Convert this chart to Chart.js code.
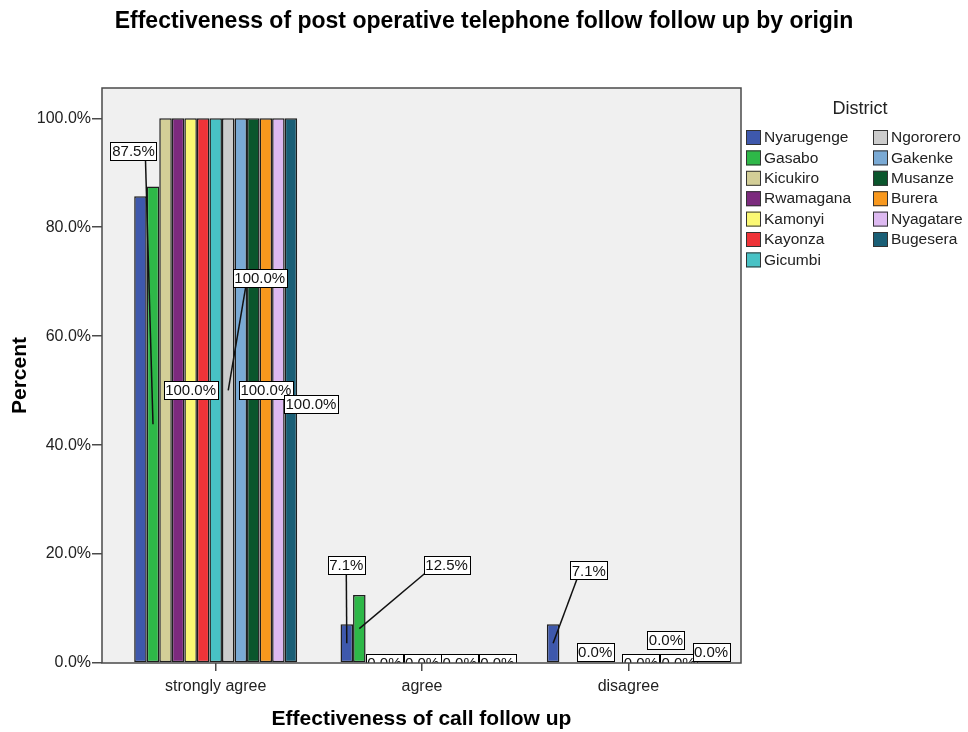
<!DOCTYPE html>
<html>
<head>
  <meta name="viewport" content="width=device-width, initial-scale=1.0">
  <title>Effectiveness of call follow up by district</title>
  <script src="https://cdn.jsdelivr.net/npm/chart.js"></script>
  <style>
    body {
      margin: 0;
      padding: 0;
      background-color: #ffffff;
    }
    #chart-container {
      width: 968px;
      height: 732px;
    }
  </style>
</head>
<body>
  <div id="chart-container">
    <canvas id="myChart"></canvas>
  </div>

  <script>
    // Response categories on the x axis
    const categories = ['strongly agree', 'agree', 'disagree'];

    const districts = [
      'Nyarugenge', 'Gasabo', 'Kicukiro', 'Rwamagana', 'Kamonyi', 'Kayonza', 'Gicumbi',
      'Ngororero', 'Gakenke', 'Musanze', 'Burera', 'Nyagatare', 'Bugesera'
    ];

    const districtColors = [
      '#3e58ac', '#2eb848', '#d3ce97', '#7c2a7e', '#fbf873', '#ef3338', '#48c2c5',
      '#cccccc', '#7aaad5', '#0a562c', '#f8981d', '#ddb9f1', '#1a5f76'
    ];

    // Percent of respondents per district, one array per category
    const stronglyAgree = [85.7, 87.5, 100, 100, 100, 100, 100, 100, 100, 100, 100, 100, 100];
    const agree         = [7.1, 12.5, 0, 0, 0, 0, 0, 0, 0, 0, 0, 0, 0];
    const disagree      = [7.1, 0, 0, 0, 0, 0, 0, 0, 0, 0, 0, 0, 0];

    const yTicks = [0, 20, 40, 60, 80, 100];

    // Which value labels are shown and where the box sits relative to the bar middle
    // (dx, dy), with optional leader start offset from the box centre
    const valueLabels = [
      { cat: 0, d: 1,  dx: -19.5, dy: -273,  lead: [12, 9] },
      { cat: 0, d: 4,  dx: 0,     dy: 0 },
      { cat: 0, d: 7,  dx: 31.5,  dy: -112.4, lead: [-14, 9] },
      { cat: 0, d: 10, dx: 0,     dy: 0 },
      { cat: 0, d: 12, dx: 20,    dy: 13.5 },
      { cat: 1, d: 0,  dx: -0.5,  dy: -78.5, lead: [0, 9] },
      { cat: 1, d: 1,  dx: 87.3,  dy: -63.8, lead: [-21, 8] },
      { cat: 1, d: 3,  dx: 0,     dy: 0 },
      { cat: 1, d: 6,  dx: 0,     dy: 0 },
      { cat: 1, d: 9,  dx: 0,     dy: 0 },
      { cat: 1, d: 12, dx: 0,     dy: 0 },
      { cat: 2, d: 0,  dx: 35.7,  dy: -72.9, lead: [-12, 9] },
      { cat: 2, d: 7,  dx: 0,     dy: 0 },
      { cat: 2, d: 10, dx: 0,     dy: 0 },
      { cat: 2, d: 3,  dx: 4.4,   dy: -11.3 },
      { cat: 2, d: 12, dx: 7.5,   dy: -11.3 },
      { cat: 2, d: 9,  dx: 0,     dy: -23.2 }
    ];

    const FONT = "'Liberation Sans', Arial, sans-serif";
    const seriesByCategory = [stronglyAgree, agree, disagree];

    const datasets = districts.map((name, d) => ({
      label: name,
      data: categories.map((c, i) => ({ x: i, y: seriesByCategory[i][d] })),
      backgroundColor: districtColors[d],
      borderColor: '#1e1e1e',
      borderWidth: ctx => (ctx.raw && ctx.raw.y ? 1.5 : 0),
      borderSkipped: false
    }));

    // Grey plot background and frame
    const plotFrame = {
      id: 'plotFrame',
      beforeDatasetsDraw(chart) {
        const { ctx, chartArea: a } = chart;
        ctx.save();
        ctx.fillStyle = '#f0f0f0';
        ctx.fillRect(a.left, a.top, a.right - a.left, a.bottom - a.top);
        ctx.restore();
      },
      afterDraw(chart) {
        const { ctx, chartArea: a } = chart;
        ctx.save();
        ctx.strokeStyle = '#4a4a4a';
        ctx.lineWidth = 1.5;
        ctx.strokeRect(a.left, a.top, a.right - a.left, a.bottom - a.top);
        ctx.restore();
      }
    };

    // Boxed percentage labels with leader lines
    const boxedLabels = {
      id: 'boxedLabels',
      afterDatasetsDraw(chart) {
        const { ctx, chartArea: a } = chart;
        ctx.save();
        ctx.beginPath();
        ctx.rect(a.left, a.top, a.right - a.left, a.bottom - a.top);
        ctx.clip();
        ctx.font = '15px ' + FONT;
        ctx.textAlign = 'center';
        ctx.textBaseline = 'middle';

        const boxes = valueLabels.map(lb => {
          const bar = chart.getDatasetMeta(lb.d).data[lb.cat];
          const value = seriesByCategory[lb.cat][lb.d];
          const midY = (bar.y + bar.base) / 2;
          const text = value.toFixed(1) + '%';
          return { lb, bar, midY, text, cx: bar.x + lb.dx, cy: midY + lb.dy };
        });

        ctx.strokeStyle = '#111';
        ctx.lineWidth = 1.5;
        boxes.forEach(b => {
          if (!b.lb.lead) return;
          ctx.beginPath();
          ctx.moveTo(b.cx + b.lb.lead[0], b.cy + b.lb.lead[1]);
          ctx.lineTo(b.bar.x, b.midY);
          ctx.stroke();
        });

        ctx.lineWidth = 1;
        boxes.forEach(b => {
          const w = Math.round(ctx.measureText(b.text).width + 3);
          const h = 18;
          const x = Math.round(b.cx - w / 2) + 0.5;
          const y = Math.round(b.cy - h / 2) + 0.5;
          ctx.fillStyle = '#ffffff';
          ctx.fillRect(x, y, w, h);
          ctx.strokeStyle = '#000';
          ctx.strokeRect(x, y, w, h);
          ctx.fillStyle = '#111';
          ctx.fillText(b.text, b.cx, b.cy + 1);
        });
        ctx.restore();
      }
    };

    // Two-column legend to the right of the plot
    const districtLegend = {
      id: 'districtLegend',
      afterDraw(chart) {
        const { ctx } = chart;
        const perCol = 7;
        const colX = [746, 873];
        const top = 130;
        const rowH = 20.4;
        ctx.save();
        ctx.fillStyle = '#222';
        ctx.font = '18px ' + FONT;
        ctx.textAlign = 'center';
        ctx.textBaseline = 'middle';
        ctx.fillText('District', 860, 109);
        ctx.font = '15.5px ' + FONT;
        ctx.textAlign = 'left';
        chart.data.datasets.forEach((ds, i) => {
          const col = Math.floor(i / perCol);
          const row = i % perCol;
          const x = colX[col];
          const y = top + row * rowH;
          ctx.fillStyle = ds.backgroundColor;
          ctx.fillRect(x, y, 15, 15);
          ctx.strokeStyle = '#333';
          ctx.lineWidth = 1;
          ctx.strokeRect(x + 0.5, y + 0.5, 14, 14);
          ctx.fillStyle = '#222';
          ctx.fillText(ds.label, x + 18, y + 8);
        });
        ctx.restore();
      }
    };

    const ctx = document.getElementById('myChart').getContext('2d');
    const chart = new Chart(ctx, {
      type: 'bar',
      data: { datasets },
      plugins: [plotFrame, boxedLabels, districtLegend],
      options: {
        responsive: true,
        maintainAspectRatio: false,
        animation: false,
        layout: { padding: 0 },
        datasets: {
          bar: {
            barPercentage: 1,
            categoryPercentage: 0.79,
            grouped: true
          }
        },
        scales: {
          x: {
            type: 'linear',
            offset: false,
            min: -0.551,
            max: 2.546,
            afterBuildTicks: s => { s.ticks = categories.map((c, i) => ({ value: i })); },
            ticks: {
              callback: v => categories[v],
              color: '#222',
              font: { family: FONT, size: 16 },
              padding: 6,
              maxRotation: 0
            },
            grid: {
              offset: false,
              drawOnChartArea: false,
              drawTicks: true,
              tickLength: 8,
              color: '#4a4a4a',
              lineWidth: 1.5
            },
            border: { display: false },
            title: {
              display: true,
              text: 'Effectiveness of call follow up',
              color: '#000',
              font: { family: FONT, size: 21, weight: 'bold' },
              padding: { top: 4, bottom: 0 }
            },
            afterFit: s => { s.height = 69; }
          },
          y: {
            min: 0,
            max: 105.56,
            afterBuildTicks: s => { s.ticks = yTicks.map(v => ({ value: v })); },
            ticks: {
              callback: v => v.toFixed(1) + '%',
              color: '#222',
              font: { family: FONT, size: 16 },
              padding: 1
            },
            grid: {
              drawOnChartArea: false,
              drawTicks: true,
              tickLength: 10,
              color: '#4a4a4a',
              lineWidth: 1.5
            },
            border: { display: false },
            title: {
              display: true,
              text: 'Percent',
              color: '#000',
              font: { family: FONT, size: 21, weight: 'bold' },
              padding: { top: 8, bottom: 0 }
            },
            afterFit: s => { s.width = 102; }
          },
          // empty axis that keeps room for the legend on the right
          legendSpace: {
            position: 'right',
            display: true,
            grid: { display: false },
            border: { display: false },
            ticks: { display: false },
            afterFit: s => { s.width = 227; }
          }
        },
        plugins: {
          legend: { display: false },
          tooltip: { enabled: false },
          title: {
            display: true,
            text: 'Effectiveness of post operative telephone follow follow up by origin',
            color: '#000',
            font: { family: FONT, size: 23, weight: 'bold' },
            padding: { top: 8, bottom: 52.4 }
          }
        }
      }
    });
  </script>
</body>
</html>
